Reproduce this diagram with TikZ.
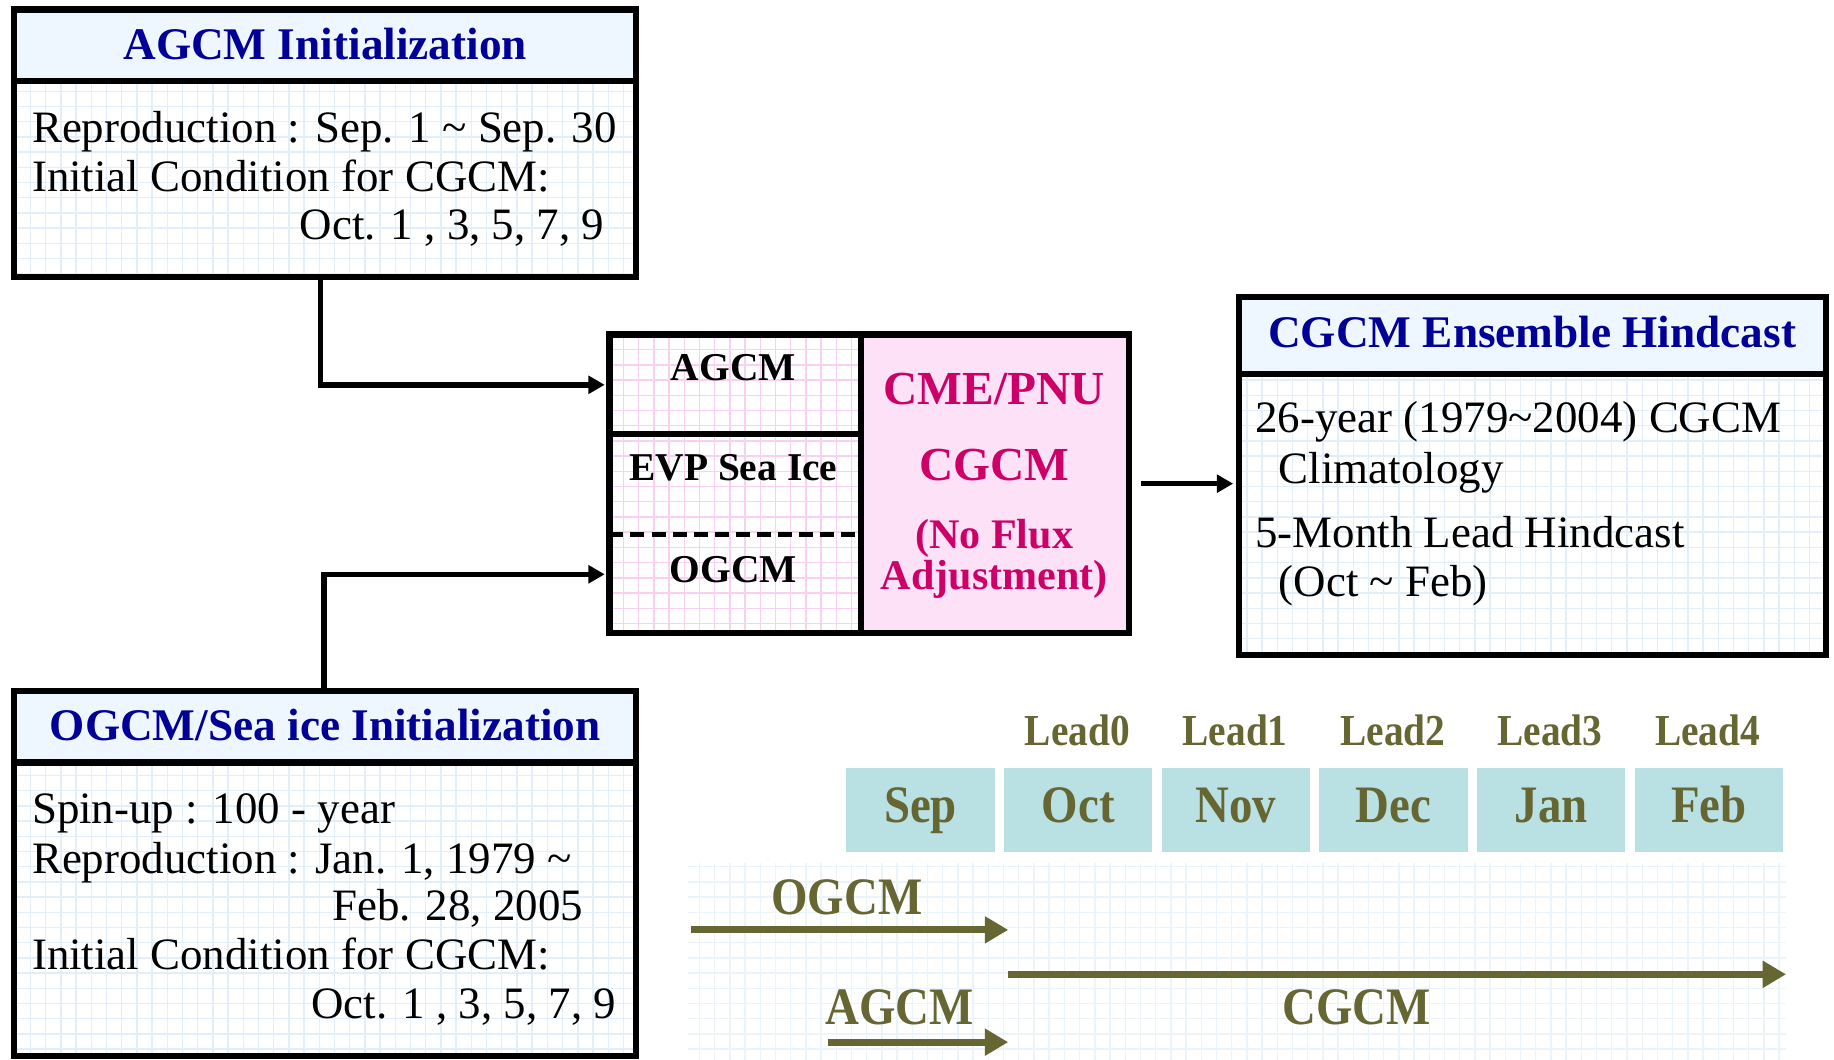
\documentclass[tikz,border=0pt]{standalone}
\usepackage{fontspec}
\setmainfont{Liberation Serif}
\newfontfamily\condfont{Liberation Serif}[FakeStretch=0.89]
\usetikzlibrary{arrows.meta}
\definecolor{titleblue}{RGB}{0,0,150}
\definecolor{hdrfill}{RGB}{238,246,255}
\definecolor{gridblue}{RGB}{226,238,250}
\definecolor{gridpink}{RGB}{250,208,240}
\definecolor{pinkfill}{RGB}{253,225,247}
\definecolor{pinktext}{RGB}{204,0,102}
\definecolor{monthfill}{RGB}{185,224,227}
\definecolor{olive}{RGB}{102,102,51}
\begin{document}
\begin{tikzpicture}[x=0.5pt,y=-0.5pt,
  outer/.style={draw=black, line width=2.7pt, inner sep=0pt},
  divider/.style={draw=black, line width=2.7pt},
  conn/.style={draw=black, line width=2.4pt, -{Triangle[length=7pt,width=7.5pt]}},
  bodytxt/.style={font=\fontsize{19.2pt}{21pt}\selectfont, inner sep=0pt},
  ttl/.style={font=\fontsize{19.35pt}{21pt}\selectfont\bfseries, text=titleblue, inner sep=0pt},
  cell/.style={font=\fontsize{16.85pt}{18pt}\selectfont\bfseries, inner sep=0pt},
  cme/.style={font=\fontsize{20.25pt}{22pt}\selectfont\bfseries, text=pinktext, inner sep=0pt},
  nof/.style={font=\fontsize{18pt}{19pt}\selectfont\bfseries, text=pinktext, inner sep=0pt},
  lead/.style={font=\condfont\fontsize{18.9pt}{20pt}\selectfont\bfseries, text=olive, inner sep=0pt},
  month/.style={fill=monthfill, minimum width=63.5pt, minimum height=35.5pt, inner sep=0pt,
     text=olive, font=\condfont\fontsize{22.5pt}{24pt}\selectfont\bfseries, text height=15pt, text depth=4.5pt},
  tl/.style={font=\condfont\fontsize{22.5pt}{24pt}\selectfont\bfseries, text=olive, inner sep=0pt},
  oarrow/.style={draw=olive, line width=3pt, -{Triangle[length=10pt,width=11pt]}},
  bgrid/.style={draw=gridblue, line width=0.6pt, step=6.5pt},
  pgrid/.style={draw=gridpink, line width=0.6pt, step=6.5pt}
]
\useasboundingbox (0,0) rectangle (1568,906);
\fill[white] (0,0) rectangle (1568,906);

% ---------- AGCM Initialization box ----------
\fill[hdrfill] (12,8) rectangle (544,69);
\draw[bgrid] (12,69) grid (544,237);
\node[outer, minimum width=266pt, minimum height=114.5pt] (agcmbox) at (278,122.5) {};
\draw[divider] (12,69) -- (544,69);
\node[ttl, anchor=base] (agcmttl) at (278,51) {AGCM Initialization};
\node[bodytxt, anchor=base west] (a1) at (27,122) {Reproduction : Sep. 1 \textasciitilde{} Sep. 30};
\node[bodytxt, anchor=base west] (a2) at (27,164) {Initial Condition for CGCM:};
\node[bodytxt, anchor=base east] (a3) at (517,205) {Oct. 1 , 3, 5, 7, 9};

% ---------- OGCM/Sea ice Initialization box ----------
\fill[hdrfill] (12,591) rectangle (544,652);
\draw[bgrid] (12,652) grid (544,903);
\node[outer, minimum width=266pt, minimum height=156pt] (ogcmbox) at (278,747) {};
\draw[divider] (12,652) -- (544,652);
\node[ttl, anchor=base] (ogcmttl) at (278,633) {OGCM/Sea ice Initialization};
\node[bodytxt, anchor=base west] (o1) at (27,704) {Spin-up : 100 - year};
\node[bodytxt, anchor=base west] (o2) at (27,747) {Reproduction : Jan. 1, 1979 \textasciitilde};
\node[bodytxt, anchor=base east] (o3) at (499,787) {Feb. 28, 2005};
\node[bodytxt, anchor=base west] (o4) at (27,829) {Initial Condition for CGCM:};
\node[bodytxt, anchor=base east] (o5) at (527,871) {Oct. 1 , 3, 5, 7, 9};

% ---------- Model box ----------
\fill[white] (521,286) rectangle (736,541);
\draw[pgrid] (521,286) grid (736,541);
\fill[pinkfill] (736,286) rectangle (965,541);
\node[outer, minimum width=222pt, minimum height=127.5pt] (model) at (743,413.5) {};
\draw[divider] (736,286) -- (736,541);
\draw[divider] (521,371) -- (736,371);
\draw[draw=black, line width=2.4pt, dash pattern=on 6pt off 3pt] (521,457) -- (736,457);
\node[cell, anchor=base] (magcm) at (627,325) {AGCM};
\node[cell, anchor=base] (mevp) at (627,411) {EVP Sea Ice};
\node[cell, anchor=base] (mogcm) at (627,498) {OGCM};
\node[cme, anchor=base] (mcme) at (850,346) {CME/PNU};
\node[cme, anchor=base] (mcgcm) at (850,411) {CGCM};
\node[nof, anchor=base] (mnof) at (850,469) {(No Flux};
\node[nof, anchor=base] (madj) at (850,504) {Adjustment)};

% ---------- Hindcast box ----------
\fill[hdrfill] (1059,254) rectangle (1561,320);
\draw[bgrid] (1059,320) grid (1561,560);
\node[outer, minimum width=251pt, minimum height=153pt] (hind) at (1310,407) {};
\draw[divider] (1059,320) -- (1561,320);
\node[ttl, anchor=base] (hindttl) at (1310,297) {CGCM Ensemble Hindcast};
\node[bodytxt, anchor=base west] (h1) at (1073,370) {26-year (1979\textasciitilde2004) CGCM};
\node[bodytxt, anchor=base west] (h2) at (1093,413) {Climatology};
\node[bodytxt, anchor=base west] (h3) at (1073,468) {5-Month Lead Hindcast};
\node[bodytxt, anchor=base west] (h4) at (1093,510) {(Oct \textasciitilde{} Feb)};

% ---------- connectors ----------
\coordinate (ain) at (517,329);
\coordinate (oin) at (517,491);
\draw[conn] ([xshift=-2pt]agcmbox.south) |- (ain);
\draw[conn] ([xshift=-0.5pt]ogcmbox.north) |- (oin);
\draw[conn] ([xshift=4pt]model.east) -- ([xshift=-1pt]model.east -| hind.west);

% ---------- timeline ----------
\draw[bgrid, draw=gridblue!70] (588,738) grid (1527,906);
\node[month] (sep) at (787,692.5) {Sep};
\node[month] (oct) at (921.8,692.5) {Oct};
\node[month] (nov) at (1056.6,692.5) {Nov};
\node[month] (dec) at (1191.4,692.5) {Dec};
\node[month] (jan) at (1326.2,692.5) {Jan};
\node[month] (feb) at (1461,692.5) {Feb};
\node[lead, anchor=base] (l0) at (921,637) {Lead0};
\node[lead, anchor=base] (l1) at (1056,637) {Lead1};
\node[lead, anchor=base] (l2) at (1191,637) {Lead2};
\node[lead, anchor=base] (l3) at (1325,637) {Lead3};
\node[lead, anchor=base] (l4) at (1460,637) {Lead4};

\coordinate (ogs) at (591,795);
\coordinate (oge) at (862,795);
\coordinate (cgs) at (862,833);
\coordinate (cge) at (1527,833);
\coordinate (ags) at (708,891);
\coordinate (age) at (862,891);
\draw[oarrow] (ogs) -- (oge);
\draw[oarrow] (cgs) -- (cge);
\draw[oarrow] (ags) -- (age);
\node[tl, anchor=base] (tlo) at (724,782) {OGCM};
\node[tl, anchor=base] (tla) at (769,876) {AGCM};
\node[tl, anchor=base] (tlc) at (1160,876) {CGCM};
\end{tikzpicture}
\end{document}
